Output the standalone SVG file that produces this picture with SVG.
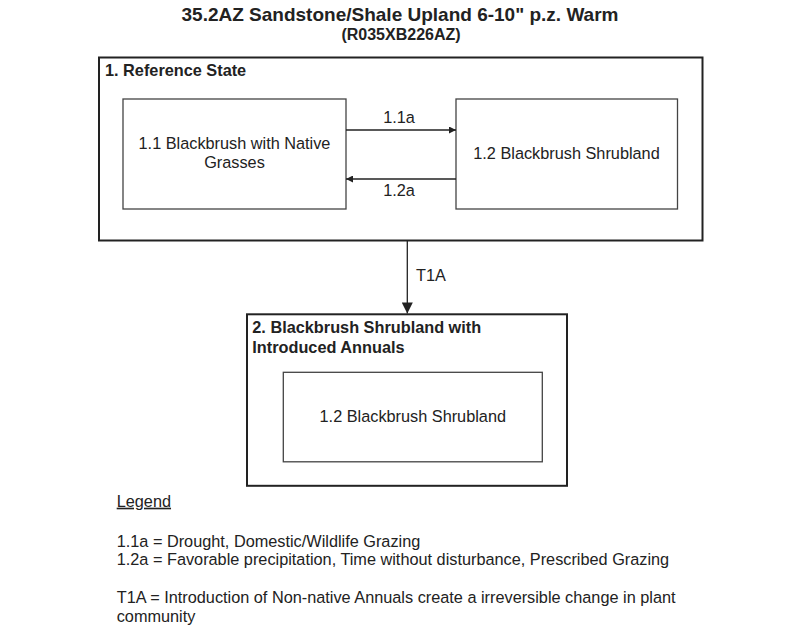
<svg xmlns="http://www.w3.org/2000/svg" width="800" height="629" viewBox="0 0 800 629">
<defs>
<style>
.t{font-family:"Liberation Sans",Arial,sans-serif;fill:#222;font-size:16.3px}
.b{font-weight:bold}
.box{fill:#fff;stroke:#444;stroke-width:1.3}
.state{fill:none;stroke:#222;stroke-width:2}
.ln{stroke:#222;stroke-width:1.3;fill:none}
</style>
<marker id="ah" viewBox="0 0 10 10" refX="10" refY="5" markerWidth="8" markerHeight="7" markerUnits="userSpaceOnUse" orient="auto"><path d="M0,0L10,5L0,10z" fill="#222"/></marker>
<marker id="ahb" viewBox="0 0 10 10" refX="10" refY="5" markerWidth="12" markerHeight="11" markerUnits="userSpaceOnUse" orient="auto"><path d="M0,0L10,5L0,10z" fill="#222"/></marker>
</defs>
<rect width="800" height="629" fill="#fff"/>
<text class="t b" x="400" y="21" text-anchor="middle" style="font-size:19px">35.2AZ Sandstone/Shale Upland 6-10" p.z. Warm</text>
<text class="t b" x="401" y="40" text-anchor="middle" style="font-size:16px">(R035XB226AZ)</text>

<g id="state1">
<rect class="state" x="99" y="57.5" width="603.5" height="183"/>
<text class="t b" x="105" y="76">1. Reference State</text>
</g>
<g id="p11">
<rect class="box" x="123" y="99" width="223" height="110"/>
<text class="t" x="234.5" y="149.3" text-anchor="middle">1.1 Blackbrush with Native</text>
<text class="t" x="234.5" y="168.3" text-anchor="middle">Grasses</text>
</g>
<g id="p12">
<rect class="box" x="456" y="99" width="221.5" height="110"/>
<text class="t" x="566.5" y="159.3" text-anchor="middle">1.2 Blackbrush Shrubland</text>
</g>
<g id="state2">
<rect class="state" x="247" y="314.3" width="320" height="171.5"/>
<text class="t b" x="252.3" y="333.3">2. Blackbrush Shrubland with</text>
<text class="t b" x="252.3" y="353.3">Introduced Annuals</text>
</g>
<g id="p2">
<rect class="box" x="283.3" y="372.3" width="259" height="89.5"/>
<text class="t" x="412.8" y="421.7" text-anchor="middle">1.2 Blackbrush Shrubland</text>
</g>

<g id="connectors">
<line class="ln" x1="346" y1="130" x2="456" y2="130" marker-end="url(#ah)"/>
<text class="t" x="399" y="123.3" text-anchor="middle">1.1a</text>
<line class="ln" x1="456" y1="179" x2="346" y2="179" marker-end="url(#ah)"/>
<text class="t" x="399" y="196" text-anchor="middle">1.2a</text>
<line class="ln" x1="407.3" y1="241" x2="407.3" y2="313.5" stroke-width="2" marker-end="url(#ahb)"/>
<text class="t" x="416" y="280.7">T1A</text>
</g>

<g id="legend">
<text class="t" x="116.7" y="506.7" text-decoration="underline">Legend</text>
<text class="t" x="116.7" y="546.7">1.1a = Drought, Domestic/Wildlife Grazing</text>
<text class="t" x="116.7" y="565">1.2a = Favorable precipitation, Time without disturbance, Prescribed Grazing</text>
<text class="t" x="116.7" y="603">T1A = Introduction of Non-native Annuals create a irreversible change in plant</text>
<text class="t" x="116.7" y="622">community</text>
</g>
</svg>
